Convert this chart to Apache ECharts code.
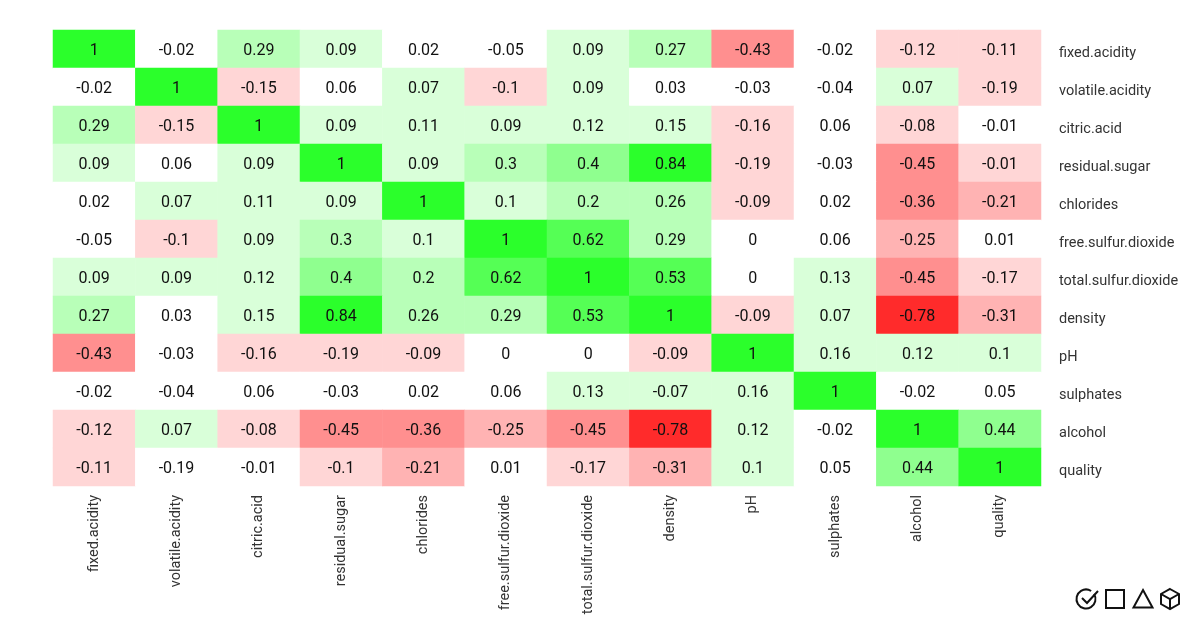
<!DOCTYPE html>
<html><head><meta charset="utf-8">
<style>html,body{margin:0;padding:0;background:#fff}#c{width:1200px;height:630px}</style>
<script src="https://cdn.jsdelivr.net/npm/echarts@6/dist/echarts.min.js"></script>
</head><body><div id="c"></div>
<script>
const variables = ['fixed.acidity','volatile.acidity','citric.acid','residual.sugar','chlorides','free.sulfur.dioxide','total.sulfur.dioxide','density','pH','sulphates','alcohol','quality'];
const correlations = [
[1,-0.02,0.29,0.09,0.02,-0.05,0.09,0.27,-0.43,-0.02,-0.12,-0.11],
[-0.02,1,-0.15,0.06,0.07,-0.1,0.09,0.03,-0.03,-0.04,0.07,-0.19],
[0.29,-0.15,1,0.09,0.11,0.09,0.12,0.15,-0.16,0.06,-0.08,-0.01],
[0.09,0.06,0.09,1,0.09,0.3,0.4,0.84,-0.19,-0.03,-0.45,-0.01],
[0.02,0.07,0.11,0.09,1,0.1,0.2,0.26,-0.09,0.02,-0.36,-0.21],
[-0.05,-0.1,0.09,0.3,0.1,1,0.62,0.29,0,0.06,-0.25,0.01],
[0.09,0.09,0.12,0.4,0.2,0.62,1,0.53,0,0.13,-0.45,-0.17],
[0.27,0.03,0.15,0.84,0.26,0.29,0.53,1,-0.09,0.07,-0.78,-0.31],
[-0.43,-0.03,-0.16,-0.19,-0.09,0,0,-0.09,1,0.16,0.12,0.1],
[-0.02,-0.04,0.06,-0.03,0.02,0.06,0.13,-0.07,0.16,1,-0.02,0.05],
[-0.12,0.07,-0.08,-0.45,-0.36,-0.25,-0.45,-0.78,0.12,-0.02,1,0.44],
[-0.11,-0.19,-0.01,-0.1,-0.21,0.01,-0.17,-0.31,0.1,0.05,0.44,1]
];
// The reference's cell shade does not always follow the printed value, so each shade step is read separately.
const shadeSteps = [
[5,0,2,1,0,0,1,2,-3,0,-1,-1],
[0,5,-1,0,1,-1,1,0,0,0,1,-1],
[2,-1,5,1,1,1,1,1,-1,0,-1,0],
[1,0,1,5,1,2,3,5,-1,0,-3,-1],
[0,1,1,1,5,1,2,2,-1,0,-3,-2],
[0,-1,1,2,1,5,4,2,0,0,-2,0],
[1,1,1,3,2,4,5,4,0,1,-3,-1],
[2,0,1,5,2,2,4,5,-1,1,-5,-2],
[-3,0,-1,-1,-1,0,0,-1,5,1,1,1],
[0,0,0,0,0,0,1,1,1,5,0,0],
[-1,1,-1,-3,-3,-2,-3,-5,1,0,5,3],
[-1,0,0,-1,-2,0,-1,-2,1,0,3,5]
];
const shadePieces = [
 {value:5,color:'#2bff2b'},{value:4,color:'#55ff55'},{value:3,color:'#8fff8f'},{value:2,color:'#b8ffb8'},{value:1,color:'#d9ffd9'},
 {value:0,color:'#ffffff'},
 {value:-1,color:'#ffd6d6'},{value:-2,color:'#ffb3b3'},{value:-3,color:'#ff8f8f'},{value:-5,color:'#ff2b2b'}
];
const cells = [];
correlations.forEach((row,r)=>row.forEach((v,c)=>cells.push([c,r,v,shadeSteps[r][c]])));
const font = 'Roboto';
const ink = {stroke:'#111',lineWidth:2,fill:'none'};
const chart = echarts.init(document.getElementById('c'),null,{renderer:'canvas',width:1200,height:630});
chart.setOption({
 animation:false,
 backgroundColor:'#fff',
 textStyle:{fontFamily:font},
 grid:{left:53,right:159,top:30,bottom:144,containLabel:false},
 xAxis:{type:'category',data:variables,axisLine:{show:false},axisTick:{show:false},splitLine:{show:false},
  axisLabel:{rotate:90,interval:0,margin:9,fontSize:14.5,color:'#333',fontFamily:font}},
 yAxis:{type:'category',data:variables,inverse:true,position:'right',axisLine:{show:false},axisTick:{show:false},splitLine:{show:false},
  axisLabel:{interval:0,margin:18,fontSize:14.5,color:'#333',fontFamily:font,
   formatter:v=>'{name|'+v+'}',
   rich:{name:{fontSize:14.5,color:'#333',fontFamily:font,padding:[8,0,0,0]}}}},
 visualMap:{show:false,type:'piecewise',dimension:3,seriesIndex:0,pieces:shadePieces},
 series:[{type:'heatmap',data:cells,encode:{x:0,y:1,value:2},
  label:{show:true,fontSize:16,color:'#111',fontFamily:font,offset:[0,2],formatter:p=>String(p.data[2])},
  itemStyle:{borderWidth:0}}],
 graphic:{elements:[
  {type:'arc',shape:{cx:1086,cy:599,r:9.5,startAngle:-0.55,endAngle:-1.0+Math.PI*2,clockwise:true},style:ink,silent:true},
  {type:'polyline',shape:{points:[[1082,598],[1087,603],[1098,591]]},style:ink,silent:true},
  {type:'rect',shape:{x:1106,y:590,width:18,height:18},style:ink,silent:true},
  {type:'polygon',shape:{points:[[1143,590],[1152.5,607.5],[1133.5,607.5]]},style:ink,silent:true},
  {type:'polygon',shape:{points:[[1170,589],[1179,594],[1179,604],[1170,609],[1161,604],[1161,594]]},style:ink,silent:true},
  {type:'polyline',shape:{points:[[1161,594],[1170,599],[1179,594]]},style:ink,silent:true},
  {type:'line',shape:{x1:1170,y1:599,x2:1170,y2:609},style:ink,silent:true}
 ]}
});
</script></body></html>
